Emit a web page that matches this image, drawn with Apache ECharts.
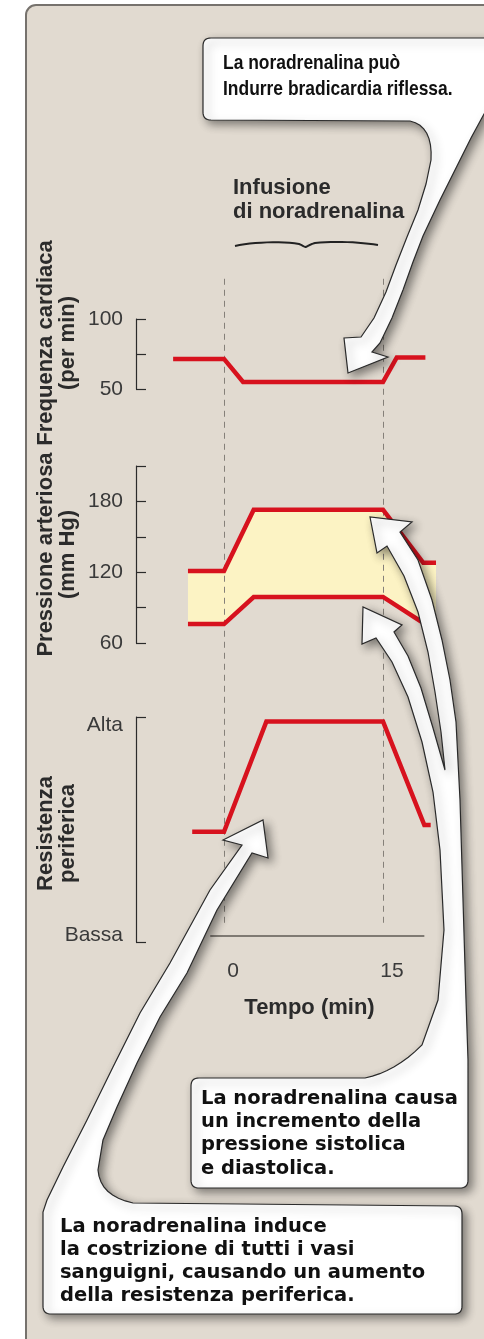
<!DOCTYPE html>
<html>
<head>
<meta charset="utf-8">
<script src="https://cdn.jsdelivr.net/npm/echarts@6.0.0/dist/echarts.min.js"></script>
<style>
  html, body { margin: 0; padding: 0; background: #fff; }
  #chart { width: 484px; height: 1339px; }
</style>
</head>
<body>
<div id="chart"></div>
<script>
// heart rate (beats per min) against time (min)
const hrTime = [-4.8, 0, 1.8, 15, 16.3, 19];
const hrValue = [71.5, 71.5, 55, 55, 72.5, 72.5];
const hrLabels = [50, 100];

// blood pressure (mm Hg)
const bpTime = [-3.4, 0, 2.8, 15, 18.8, 20];
const systolic = [121, 121, 173, 173, 128, 128];
const diastolic = [76, 76, 99, 99, 77, 77];
const bpLabels = [60, 120, 180];

// peripheral resistance, 0 = Bassa, 10 = Alta
const resTime = [-3, 0, 4, 15, 18.9, 19.5];
const resValue = [4.9, 4.9, 9.8, 9.8, 5.2, 5.2];
const resLabels = { 0: 'Bassa', 10: 'Alta' };

// time axis
const timeLabels = [0, 15];
const infusion = [0, 15];
const timeAxisSpan = [-1.3, 18.9];

const RED = '#d7121e';
const INK = '#2b2b2b';
const FONT = "'Liberation Sans', Arial, sans-serif";

const zip = (xs, ys) => xs.map((x, i) => [x, ys[i]]);

// turn a small M/L/Q/C outline into points for polygon / polyline shapes
function samplePath(d) {
  const tok = d.match(/[MLQCZ]|-?[\d.]+/g);
  const pts = [];
  let i = 0, cmd = 'M', cur = [0, 0];
  const num = () => parseFloat(tok[i++]);
  while (i < tok.length) {
    if (/[MLQCZ]/.test(tok[i])) {
      cmd = tok[i++];
      if (cmd === 'Z') continue;
    }
    if (cmd === 'M' || cmd === 'L') {
      cur = [num(), num()];
      pts.push(cur);
    } else if (cmd === 'Q') {
      const c = [num(), num()], e = [num(), num()];
      for (let k = 1; k <= 8; k++) {
        const s = k / 8, r = 1 - s;
        pts.push([r * r * cur[0] + 2 * r * s * c[0] + s * s * e[0], r * r * cur[1] + 2 * r * s * c[1] + s * s * e[1]]);
      }
      cur = e;
    } else if (cmd === 'C') {
      const c1 = [num(), num()], c2 = [num(), num()], e = [num(), num()];
      for (let k = 1; k <= 12; k++) {
        const s = k / 12, r = 1 - s;
        pts.push([
          r * r * r * cur[0] + 3 * r * r * s * c1[0] + 3 * r * s * s * c2[0] + s * s * s * e[0],
          r * r * r * cur[1] + 3 * r * r * s * c1[1] + 3 * r * s * s * c2[1] + s * s * s * e[1]
        ]);
      }
      cur = e;
    } else {
      i++;
    }
  }
  return pts;
}

const calloutStyle = {
  fill: '#fff', stroke: '#2a2a2a', lineWidth: 1.2,
  shadowBlur: 10, shadowColor: 'rgba(0,0,0,0.45)', shadowOffsetX: 4, shadowOffsetY: 4
};

const chart = echarts.init(document.getElementById('chart'), null, { renderer: 'canvas' });

const gridBase = { left: 171, width: 265, containLabel: false, outerBoundsMode: 'none' };

const nameStyle = { fontFamily: FONT, fontWeight: 'bold', fontSize: 22, lineHeight: 22, color: INK };

const yAxisBase = {
  type: 'value',
  offset: 35,
  splitLine: { show: false },
  axisLine: { show: true, onZero: false, lineStyle: { color: INK, width: 1.2 } },
  axisTick: { show: true, inside: true, length: 10, lineStyle: { color: INK, width: 1.2 } },
  nameLocation: 'middle',
  nameRotate: 90,
  nameGap: 57,
  nameMoveOverlap: false,
  nameTextStyle: nameStyle
};

const labelBase = { fontFamily: FONT, fontSize: 21, color: '#3a3a3a', margin: 13 };

const lineBase = {
  type: 'line',
  symbol: 'none',
  silent: true,
  z: 5,
  lineStyle: { color: RED, width: 4.5, join: 'miter', cap: 'butt' }
};

const option = {
  backgroundColor: '#ffffff',
  animation: false,
  grid: [
    Object.assign({ top: 319, height: 70 }, gridBase),
    Object.assign({ top: 466, height: 177 }, gridBase),
    Object.assign({ top: 717, height: 225 }, gridBase),
    Object.assign({ top: 275, height: 661 }, gridBase)
  ],
  xAxis: [
    { type: 'value', gridIndex: 0, min: -5, max: 20, show: false },
    { type: 'value', gridIndex: 1, min: -5, max: 20, show: false },
    { type: 'value', gridIndex: 2, min: -5, max: 20, show: false },
    {
      type: 'value', gridIndex: 3, min: -5, max: 20,
      splitLine: { show: false },
      axisLine: { show: false },
      axisTick: { show: false },
      axisLabel: Object.assign({}, labelBase, {
        customValues: timeLabels,
        margin: 25,
        padding: [0, 0, 0, 18]
      }),
      name: 'Tempo (min)',
      nameLocation: 'middle',
      nameGap: 61,
      nameMoveOverlap: false,
      nameTextStyle: { fontFamily: FONT, fontWeight: 'bold', fontSize: 22, color: INK, padding: [0, 0, 0, 12] }
    }
  ],
  yAxis: [
    Object.assign({}, yAxisBase, {
      gridIndex: 0, min: 50, max: 100, interval: 25,
      name: 'Frequenza cardiaca\n(per min)',
      // title sits a little above the middle of its short axis
      nameTextStyle: Object.assign({}, nameStyle, { padding: [0, 0, 0, 22] }),
      axisLabel: Object.assign({}, labelBase, { formatter: v => hrLabels.includes(v) ? String(v) : '' })
    }),
    Object.assign({}, yAxisBase, {
      gridIndex: 1, min: 60, max: 210, interval: 30,
      name: 'Pressione arteriosa\n(mm Hg)',
      axisLabel: Object.assign({}, labelBase, { formatter: v => bpLabels.includes(v) ? String(v) : '' })
    }),
    Object.assign({}, yAxisBase, {
      gridIndex: 2, min: 0, max: 10, interval: 10,
      name: 'Resistenza\nperiferica',
      nameTextStyle: Object.assign({}, nameStyle, { padding: [0, 8, 0, 0] }),
      axisLabel: Object.assign({}, labelBase, {
        formatter: v => (v === 10 ? '{hi|' : '{lo|') + resLabels[v] + '}',
        rich: {
          hi: { fontFamily: FONT, fontSize: 21, color: '#3a3a3a', padding: [16, 0, 0, 0] },
          lo: { fontFamily: FONT, fontSize: 21, color: '#3a3a3a', padding: [0, 0, 14, 0] }
        }
      })
    }),
    { type: 'value', gridIndex: 3, min: 0, max: 1, show: false }
  ],
  series: [
    // yellow band between systolic and diastolic pressure
    {
      type: 'custom', xAxisIndex: 1, yAxisIndex: 1, silent: true, z: 2, clip: false,
      data: [[bpTime[0], systolic[0]]],
      renderItem: (params, api) => {
        const top = bpTime.map((t, i) => api.coord([t, systolic[i]]));
        const bottom = bpTime.map((t, i) => api.coord([t, diastolic[i]])).reverse();
        return { type: 'polygon', shape: { points: top.concat(bottom) }, style: { fill: '#fcf3c4' } };
      }
    },
    // infusion markers and time axis line
    {
      type: 'line', xAxisIndex: 3, yAxisIndex: 3, data: [], silent: true, z: 3,
      markLine: {
        silent: true,
        symbol: ['none', 'none'],
        label: { show: false },
        emphasis: { disabled: true },
        lineStyle: { color: '#858079', width: 1, type: [6, 5] },
        data: [
          [{ coord: [infusion[0], 0.02] }, { coord: [infusion[0], 1] }],
          [{ coord: [infusion[1], 0.02] }, { coord: [infusion[1], 1] }],
          [
            { coord: [timeAxisSpan[0], 0], lineStyle: { type: 'solid', color: '#5e5a55', width: 1.5 } },
            { coord: [timeAxisSpan[1], 0] }
          ]
        ]
      }
    },
    Object.assign({}, lineBase, { xAxisIndex: 0, yAxisIndex: 0, data: zip(hrTime, hrValue) }),
    Object.assign({}, lineBase, { xAxisIndex: 1, yAxisIndex: 1, data: zip(bpTime, systolic) }),
    Object.assign({}, lineBase, { xAxisIndex: 1, yAxisIndex: 1, data: zip(bpTime, diastolic) }),
    Object.assign({}, lineBase, { xAxisIndex: 2, yAxisIndex: 2, data: zip(resTime, resValue) })
  ],
  graphic: {
    elements: [
      // panel
      {
        type: 'rect', z: -1, silent: true,
        shape: { x: 26, y: 5, width: 500, height: 1400, r: 10 },
        style: { fill: '#e1dad0', stroke: '#76726d', lineWidth: 2 }
      },
      // infusion label and brace
      {
        type: 'text', z: 10, silent: true,
        style: {
          x: 233, y: 176, text: 'Infusione\ndi noradrenalina',
          font: 'bold 22px ' + FONT, lineHeight: 24, fill: INK
        }
      },
      {
        type: 'polyline', z: 10, silent: true,
        shape: { points: samplePath('M235,246 C252,242 282,241 299,244 C302,245 304,247 306,247 C308,246 311,244 315,243 C335,241 360,242 378,245') },
        style: { fill: 'none', stroke: '#222', lineWidth: 2 }
      },
      // callout 1 with arrow to heart rate
      {
        type: 'polygon', z: 50, silent: true,
        shape: { points: samplePath('M211,38 L496,38 L496,96 L484,114 L471,138 L457,166 L440,200 L423,236 L413,262 L403,290 L392,318 L380,343 L372,352 L388,357 L348,373 L344,338 L361,337 L374,318 L386,292 L396,265 L407,237 L418,210 L426,184 L431,160 Q433,126 410,121 L211,120 Q203,120 203,112 L203,46 Q203,38 211,38 Z') },
        style: calloutStyle
      },
      {
        type: 'text', z: 51, silent: true,
        x: 223, y: 50, scaleX: 0.83,
        style: {
          x: 0, y: 0, text: 'La noradrenalina può\nIndurre bradicardia riflessa.',
          font: 'bold 21px ' + FONT, lineHeight: 26, fill: '#111'
        }
      },
      // callout 2 with two arrows to pressure
      {
        type: 'polygon', z: 50, silent: true,
        shape: { points: samplePath('M199,1078 L365,1078 Q395,1072 422,1045 L438,1000 L444,930 L440,850 L433,792 L422,742 L408,697 L392,662 L376,638 L362,644 L363,607 L402,625 L394,632 L408,656 L421,688 L433,728 L445,770 L441,732 L435,692 L428,652 L418,612 L404,576 L387,546 L377,553 L370,517 L412,522 L400,532 L418,560 L432,600 L442,640 L450,680 L456,722 L460,800 L463,900 L466,1000 L468,1060 L468,1180 Q468,1188 460,1188 L199,1188 Q191,1188 191,1180 L191,1086 Q191,1078 199,1078 Z') },
        style: calloutStyle
      },
      {
        type: 'text', z: 51, silent: true,
        style: {
          x: 201, y: 1087, text: 'La noradrenalina causa\nun incremento della\npressione sistolica\ne diastolica.',
          font: "bold 19.5px 'DejaVu Sans', sans-serif", lineHeight: 23.3, fill: '#111'
        }
      },
      // callout 3 with arrow to resistance
      {
        type: 'polygon', z: 50, silent: true,
        shape: { points: samplePath('M43,1306 L43,1212 L47,1200 L63,1167 L87,1120 L113,1067 L140,1013 L170,963 L210,890 L242,845 L223,840 L263,820 L268,858 L252,853 L217,910 L187,973 L160,1017 L137,1063 L117,1107 L103,1140 L98,1170 Q100,1196 133,1203 L454,1206 Q462,1206 462,1214 L462,1306 Q462,1314 454,1314 L51,1314 Q43,1314 43,1306 Z') },
        style: calloutStyle
      },
      {
        type: 'text', z: 51, silent: true,
        style: {
          x: 60, y: 1215, text: 'La noradrenalina induce\nla costrizione di tutti i vasi\nsanguigni, causando un aumento\ndella resistenza periferica.',
          font: "bold 19.5px 'DejaVu Sans', sans-serif", lineHeight: 23, fill: '#111'
        }
      }
    ]
  }
};

chart.setOption(option);
</script>
</body>
</html>
